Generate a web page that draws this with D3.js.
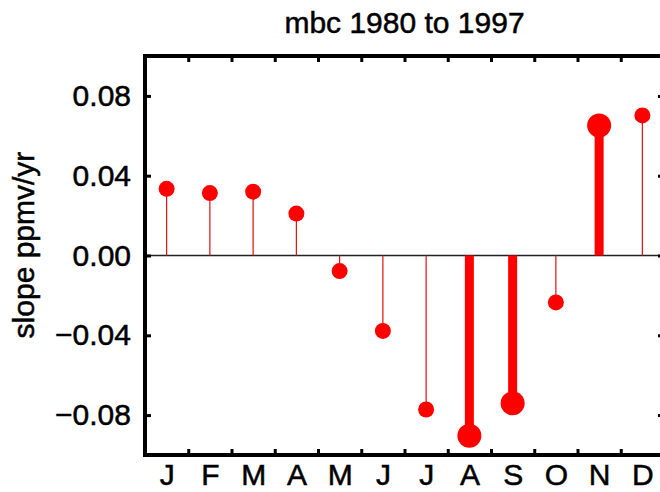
<!DOCTYPE html>
<html>
<head>
<meta charset="utf-8">
<script src="https://cdn.jsdelivr.net/npm/d3@7"></script>
<style>
  body { margin: 0; background: #fff; }
  text { font-family: 'Liberation Sans', Arial, Helvetica, sans-serif; fill: #000; stroke: #000; stroke-width: 0.5px; }
</style>
</head>
<body>
<div id="chart"></div>
<script>
// monthly trend, mbc 1980-1997
var months = ['J', 'F', 'M', 'A', 'M', 'J', 'J', 'A', 'S', 'O', 'N', 'D']
var slopes = [0.0334, 0.0313, 0.0320, 0.0210, -0.0078, -0.0378, -0.0772, -0.0903, -0.0741, -0.0235, 0.0652, 0.0702]
// significant trends get the fat stems / big dots
var significant = [false, false, false, false, false, false, false, true, true, false, true, false]
var yTicks = [0.08, 0.04, 0.0, -0.04, -0.08]

var width = 660
var height = 492
var plotLeft = 145
var plotRight = 664
var plotTop = 56
var plotBottom = 455

var svg = d3
  .select('#chart')
  .append('svg')
  .attr('width', width)
  .attr('height', height)

var xPositionScale = d3.scaleLinear().domain([0.5, 12.5]).range([plotLeft, plotRight])
var yPositionScale = d3.scaleLinear().domain([-0.1, 0.1]).range([plotBottom, plotTop])

var datapoints = months.map(function(m, i) {
  return { month: m, idx: i + 1, slope: slopes[i], sig: significant[i] }
})

// zero line
svg
  .append('line')
  .attr('x1', plotLeft)
  .attr('x2', plotRight)
  .attr('y1', yPositionScale(0))
  .attr('y2', yPositionScale(0))
  .attr('stroke', '#222')
  .attr('stroke-width', 1.5)

// stems
svg
  .selectAll('.stem')
  .data(datapoints)
  .enter()
  .append('line')
  .attr('class', 'stem')
  .attr('x1', d => xPositionScale(d.idx))
  .attr('x2', d => xPositionScale(d.idx))
  .attr('y1', yPositionScale(0))
  .attr('y2', d => yPositionScale(d.slope))
  .attr('stroke', d => (d.sig ? '#ff0000' : '#e01010'))
  .attr('stroke-width', d => (d.sig ? 9 : 1.2))

// dots
svg
  .selectAll('.dot')
  .data(datapoints)
  .enter()
  .append('circle')
  .attr('class', 'dot')
  .attr('cx', d => xPositionScale(d.idx))
  .attr('cy', d => yPositionScale(d.slope))
  .attr('r', d => (d.sig ? 12 : 8))
  .attr('fill', '#ff0000')

// frame
svg
  .append('rect')
  .attr('x', plotLeft)
  .attr('y', plotTop)
  .attr('width', plotRight - plotLeft)
  .attr('height', plotBottom - plotTop)
  .attr('fill', 'none')
  .attr('stroke', '#000')
  .attr('stroke-width', 4)

// y axis (left + right, ticks inward)
var yAxis = d3
  .axisLeft(yPositionScale)
  .tickValues(yTicks)
  .tickFormat(d3.format('.2f'))
  .tickSize(-6)
  .tickPadding(14)
svg
  .append('g')
  .attr('class', 'axis y-axis')
  .attr('transform', 'translate(' + plotLeft + ',0)')
  .call(yAxis)

svg
  .append('g')
  .attr('class', 'axis y-axis-right')
  .attr('transform', 'translate(' + plotRight + ',0)')
  .call(d3.axisRight(yPositionScale).tickValues(yTicks).tickSize(-6).tickFormat(''))

// x axis: month letters, minor ticks between months
var xAxis = d3
  .axisBottom(xPositionScale)
  .tickValues(d3.range(1, 13))
  .tickFormat(d => months[d - 1])
  .tickSize(0)
  .tickPadding(9)
svg
  .append('g')
  .attr('class', 'axis x-axis')
  .attr('transform', 'translate(0,' + plotBottom + ')')
  .call(xAxis)

var between = d3.range(1.5, 12, 1)
svg
  .append('g')
  .attr('transform', 'translate(0,' + plotBottom + ')')
  .call(d3.axisBottom(xPositionScale).tickValues(between).tickSize(-6).tickFormat(''))
svg
  .append('g')
  .attr('transform', 'translate(0,' + plotTop + ')')
  .call(d3.axisTop(xPositionScale).tickValues(between).tickSize(-6).tickFormat(''))

svg.selectAll('.domain').remove()
svg
  .selectAll('.tick line')
  .attr('stroke', '#000')
  .attr('stroke-width', 3)
svg
  .selectAll('.tick text')
  .attr('font-size', 30)
  .attr('fill', '#000')

// title
svg
  .append('text')
  .text('mbc 1980 to 1997')
  .attr('x', (plotLeft + plotRight) / 2)
  .attr('y', 33)
  .attr('text-anchor', 'middle')
  .attr('font-size', 30)

svg
  .append('text')
  .text('slope ppmv/yr')
  .attr('transform', 'translate(34,245) rotate(-90)')
  .attr('text-anchor', 'middle')
  .attr('font-size', 30)
</script>
</body>
</html>
